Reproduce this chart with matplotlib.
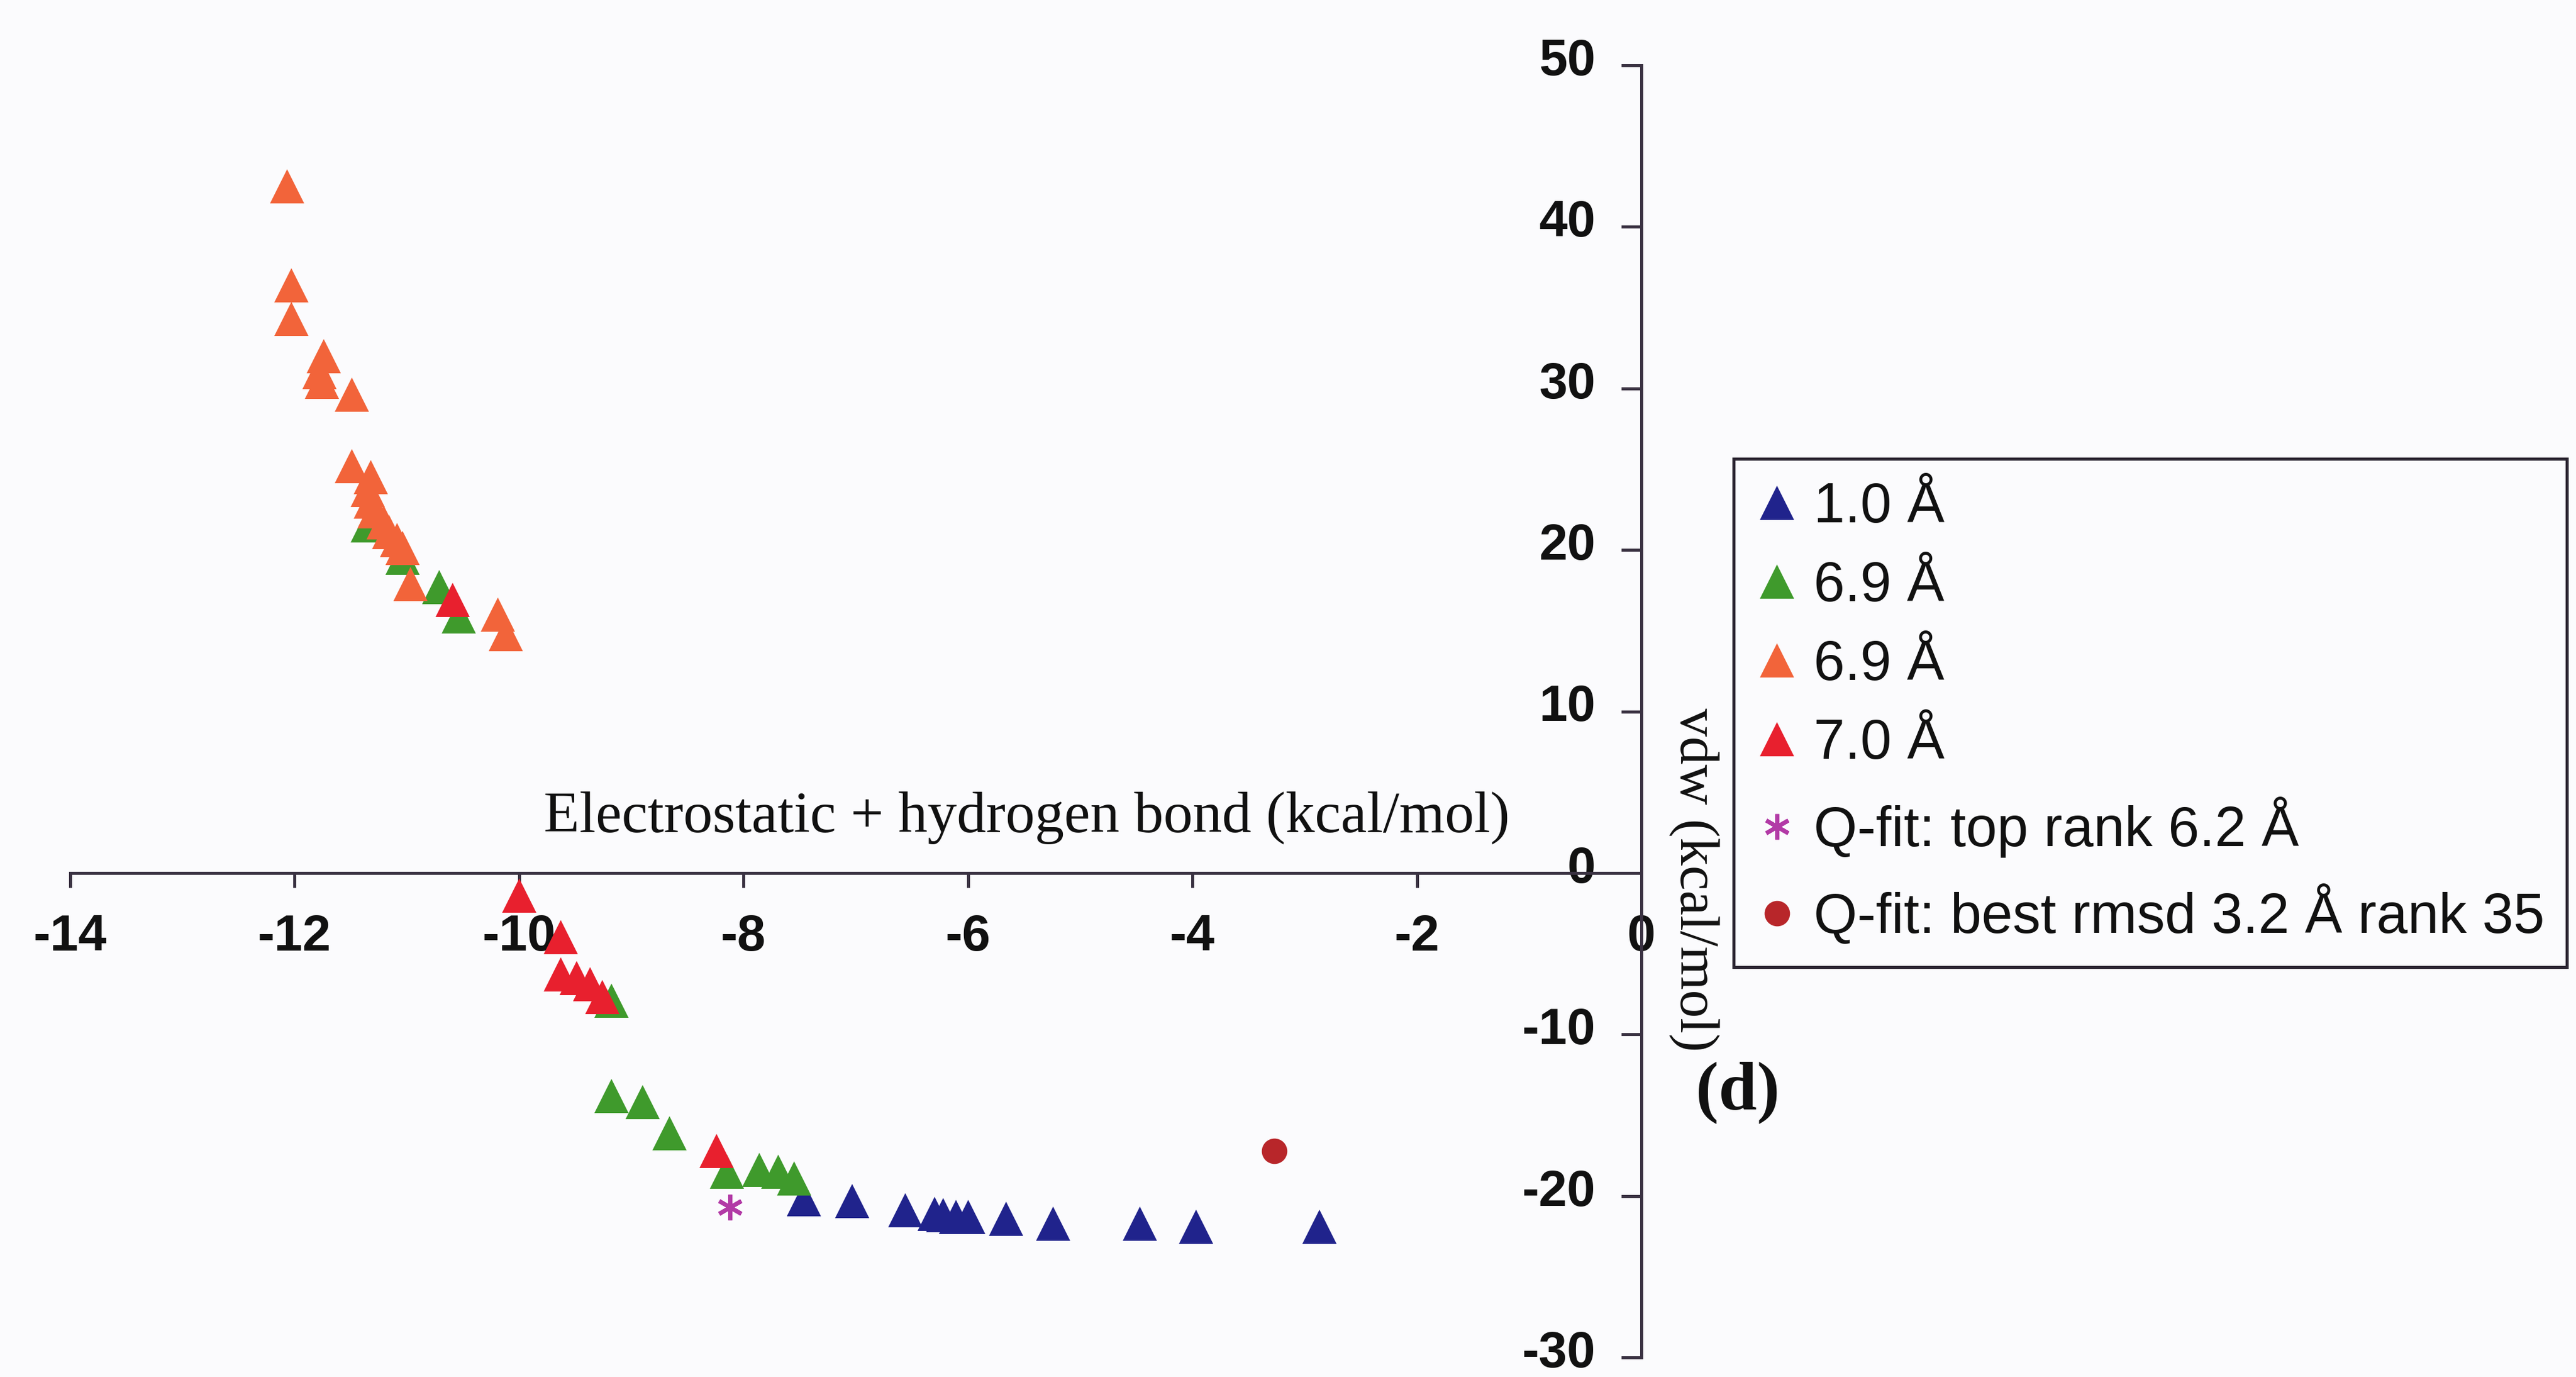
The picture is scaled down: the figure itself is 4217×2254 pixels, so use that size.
import matplotlib
matplotlib.use("Agg")
import matplotlib.pyplot as plt
from matplotlib.transforms import ScaledTranslation

# ---- data (kcal/mol) ----
blue_x = [-7.46, -7.03, -6.56, -6.30, -6.22, -6.11, -6.00, -5.66, -5.24, -4.47, -3.97, -2.87]
blue_y = [-20.2, -20.3, -20.9, -21.1, -21.2, -21.3, -21.3, -21.4, -21.7, -21.7, -21.9, -21.9]

green_x = [-11.35, -11.04, -10.71, -10.54, -9.18, -9.18, -8.90, -8.66, -8.15, -7.86, -7.69, -7.55]
green_y = [21.5, 19.5, 17.7, 15.9, -7.9, -13.8, -14.2, -16.1, -18.5, -18.4, -18.5, -18.9]

orange_x = [-12.07, -12.03, -12.03, -11.74, -11.78, -11.76, -11.49, -11.49, -11.32, -11.35,
            -11.32, -11.29, -11.21, -11.16, -11.09, -11.04, -10.97, -10.19, -10.12]
orange_y = [42.5, 36.4, 34.3, 32.0, 31.0, 30.4, 29.6, 25.2, 24.5, 23.7,
            23.0, 22.4, 21.7, 21.1, 20.6, 20.1, 17.9, 16.0, 14.8]

red_x = [-10.59, -10.00, -9.63, -9.63, -9.49, -9.37, -9.26, -8.24]
red_y = [16.9, -1.4, -3.96, -6.3, -6.5, -6.9, -7.7, -17.2]

qfit_top_x = [-8.12]
qfit_top_y = [-20.7]
qfit_best_x = [-3.27]
qfit_best_y = [-17.2]

labels = ["1.0 Å", "6.9 Å", "6.9 Å", "7.0 Å",
          "Q-fit: top rank 6.2 Å", "Q-fit: best rmsd 3.2 Å rank 35"]

x_ticks = [-14, -12, -10, -8, -6, -4, -2, 0]
y_ticks = [-30, -20, -10, 0, 10, 20, 30, 40, 50]

# ---- style ----
BG = "#fbfbfd"
AXC = "#3a3242"
TXT = "#111111"
C_BLUE = "#20238c"
C_GREEN = "#3f9a2c"
C_ORANGE = "#f2643a"
C_RED = "#e8202e"
C_MAG = "#b23aa6"
C_DRED = "#b8262a"

W_PX, H_PX, DPI = 4217, 2254, 300
fig = plt.figure(figsize=(W_PX / DPI, H_PX / DPI), dpi=DPI, facecolor=BG)

left, right = 115 / W_PX, 2687 / W_PX
top, bottom = 1 - 107 / H_PX, 1 - 2222 / H_PX
ax = fig.add_axes([left, bottom, right - left, top - bottom])
ax.set_facecolor("none")

ax.set_xlim(-14, 0)
ax.set_ylim(-30, 50)

ms = 13.5
tri = dict(marker="^", linestyle="none", markersize=ms, markeredgewidth=0, clip_on=False)
h1, = ax.plot(blue_x, blue_y, color=C_BLUE, **tri)
h2, = ax.plot(green_x, green_y, color=C_GREEN, **tri)
h3, = ax.plot(orange_x, orange_y, color=C_ORANGE, **tri)
h4, = ax.plot(red_x, red_y, color=C_RED, **tri)
h5, = ax.plot(qfit_top_x, qfit_top_y, linestyle="none", marker=(6, 2, 0),
              markersize=10, markeredgewidth=1.6, color=C_MAG, clip_on=False)
h6, = ax.plot(qfit_best_x, qfit_best_y, linestyle="none", marker="o",
              markersize=10, markeredgewidth=0, color=C_DRED, clip_on=False)

# axes crossing at the origin
for s in ("top", "right"):
    ax.spines[s].set_visible(False)
ax.spines["left"].set_position(("data", 0))
ax.spines["bottom"].set_position(("data", 0))
for s in ("left", "bottom"):
    ax.spines[s].set_color(AXC)
    ax.spines[s].set_linewidth(1.2)

tick_font = dict(family="Liberation Sans", weight="bold", size=20)
ax.set_xticks(x_ticks)
ax.set_yticks(y_ticks)
ax.set_xticklabels([str(v) for v in x_ticks], fontdict=tick_font, color=TXT)
ax.set_yticklabels([str(v) for v in y_ticks], fontdict=tick_font, color=TXT)
ax.tick_params(axis="x", direction="out", length=5.8, width=1.2, color=AXC, pad=10)
ax.tick_params(axis="y", direction="out", length=8, width=1.2, color=AXC, pad=10)

# value labels sit slightly above their ticks on the vertical axis
lift = ScaledTranslation(0, 3.5 / 72, fig.dpi_scale_trans)
for lbl in ax.get_yticklabels():
    lbl.set_transform(lbl.get_transform() + lift)

# axis titles
fig.text(1681 / W_PX, 1 - 1339 / H_PX, "Electrostatic + hydrogen bond (kcal/mol)",
         family="Liberation Serif", size=23, ha="center", va="center", color=TXT)
fig.text(2773 / W_PX, 1 - 1440 / H_PX, "vdw (kcal/mol)", rotation=270,
         family="Liberation Serif", size=22, ha="center", va="center", color=TXT)
fig.text(2845 / W_PX, 1 - 1788 / H_PX, "(d)", family="Liberation Serif", weight="bold",
         size=27, ha="center", va="center", color=TXT)

leg = fig.legend([h1, h2, h3, h4, h5, h6], labels,
                 loc="upper left", bbox_to_anchor=(2838 / W_PX, 1 - 751 / H_PX),
                 bbox_transform=fig.transFigure, frameon=True, fancybox=False,
                 edgecolor="#2a2430", facecolor=BG, framealpha=1,
                 prop=dict(family="Liberation Sans", size=22),
                 labelspacing=0.47, handlelength=0.75, handletextpad=0.28,
                 borderpad=0.4, borderaxespad=0)
leg.get_frame().set_linewidth(1.2)
for t in leg.get_texts():
    t.set_color(TXT)

fig.savefig("out.png", dpi=DPI, facecolor=BG)
